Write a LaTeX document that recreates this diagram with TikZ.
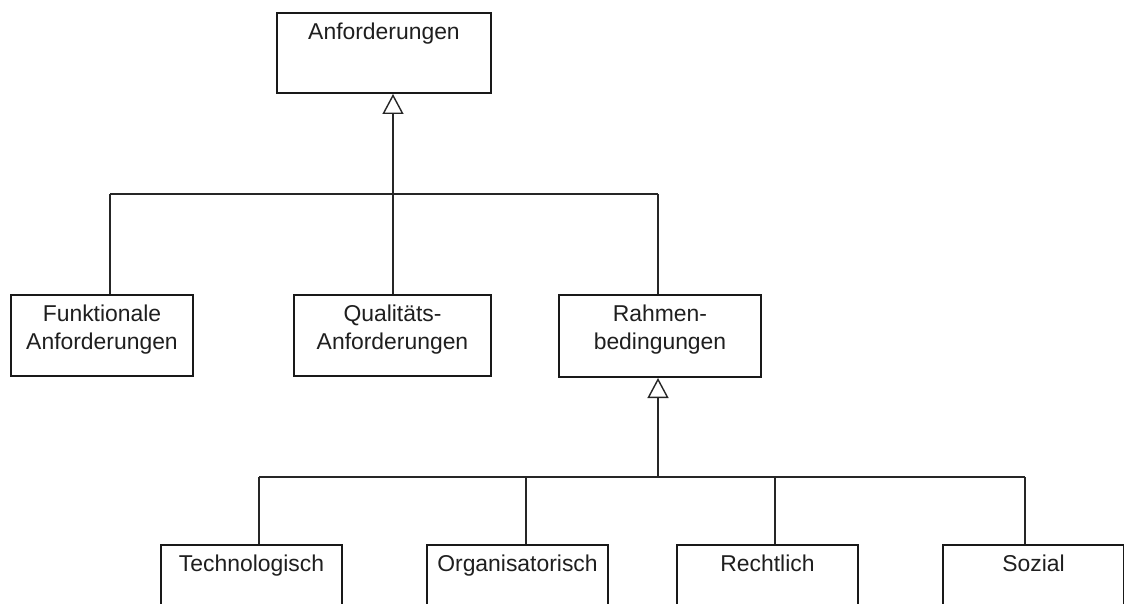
\documentclass[tikz,border=0pt]{standalone}
\usepackage{fontspec}
\setmainfont{Liberation Sans}
\usetikzlibrary{arrows.meta}
\begin{document}
\begin{tikzpicture}[x=1pt,y=-1pt,
  box/.style={draw=black!90, line width=2pt, inner sep=0pt, anchor=north west,
              minimum width=#1},
  txt/.style={inner sep=0pt, anchor=north, align=center, text=black!88,
              font=\fontsize{22.9}{28}\selectfont},
  conn/.style={draw=black!85, line width=1.4pt},
  inh/.style={conn, -{Triangle[open, length=20pt, width=21pt]}}
]
\fill[white] (0,0) rectangle (1124,604);
\useasboundingbox (0,0) rectangle (1124,604);
\clip (0,0) rectangle (1124,604);

% class boxes
\node[box=214pt, minimum height=80pt] (A)  at (276,12)  {};
\node[box=182pt, minimum height=81pt] (F)  at (10,294)  {};
\node[box=197pt, minimum height=81pt] (Q)  at (293,294) {};
\node[box=202pt, minimum height=82pt] (R)  at (558,294) {};
\node[box=181pt, minimum height=80pt] (T)  at (160,544) {};
\node[box=181pt, minimum height=80pt] (O)  at (426,544) {};
\node[box=181pt, minimum height=80pt] (Re) at (676,544) {};
\node[box=181pt, minimum height=80pt] (S)  at (942,544) {};

% class names
\node[txt] (At)  at ([yshift=-7.6pt]A.north)  {\strut Anforderungen};
\node[txt] (Ft)  at ([yshift=-7.6pt]F.north)  {\strut Funktionale\\\strut Anforderungen};
\node[txt] (Qt)  at ([yshift=-7.6pt]Q.north)  {\strut Qualitäts-\\\strut Anforderungen};
\node[txt] (Rt)  at ([yshift=-7.6pt]R.north)  {\strut Rahmen-\\\strut bedingungen};
\node[txt] (Tt)  at ([yshift=-7.6pt]T.north)  {\strut Technologisch};
\node[txt] (Ot)  at ([yshift=-7.6pt]O.north)  {\strut Organisatorisch};
\node[txt] (Ret) at ([yshift=-7.6pt]Re.north) {\strut Rechtlich};
\node[txt] (St)  at ([yshift=-7.6pt]S.north)  {\strut Sozial};

% first generalisation tree
\coordinate (hub1) at (393,194);
\coordinate (fj)   at (110,194);
\coordinate (rj)   at (658,194);
\draw[conn] (fj) -- (rj);
\draw[inh]  (hub1) -- (hub1 |- A.south);
\draw[conn] (hub1) -- (hub1 |- Q.north);
\draw[conn] (fj) -- (fj |- F.north);
\draw[conn] (rj) -- (rj |- R.north);

% second generalisation tree
\coordinate (hub2) at (658,477);
\coordinate (tj)   at (259,477);
\coordinate (oj)   at (526,477);
\coordinate (rej)  at (775,477);
\coordinate (sj)   at (1025,477);
\draw[conn] (tj) -- (sj);
\draw[inh]  (hub2) -- (hub2 |- R.south);
\draw[conn] (tj)  -- (tj |- T.north);
\draw[conn] (oj)  -- (oj |- O.north);
\draw[conn] (rej) -- (rej |- Re.north);
\draw[conn] (sj)  -- (sj |- S.north);
\end{tikzpicture}
\end{document}
